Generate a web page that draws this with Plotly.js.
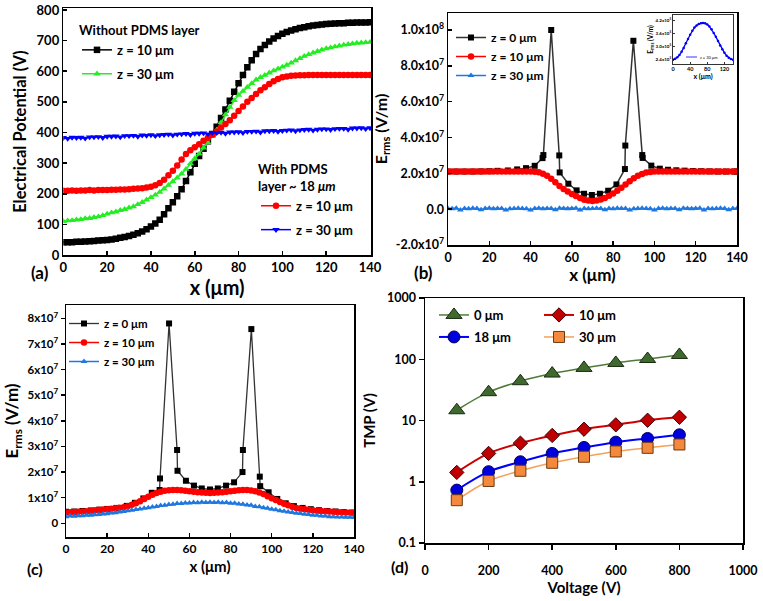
<!DOCTYPE html>
<html><head><meta charset="utf-8">
<script src="https://cdn.plot.ly/plotly-3.0.1.min.js"></script>
<style>html,body{margin:0;padding:0;background:#fff}#chart{width:763px;height:601px}</style>
</head><body><div id="chart"></div>
<script>
// ---------- Panel (a): electrical potential vs x ----------
const xA = [0,2,4,6,8,10,12,14,16,18,20,22,24,26,28,30,32,34,36,38,40,42,44,46,48,50,52,54,56,58,60,62,64,66,68,70,72,74,76,78,80,82,84,86,88,90,92,94,96,98,100,102,104,106,108,110,112,114,116,118,120,122,124,126,128,130,132,134,136,138,140];
const potNoPdms10 = [42,42,42,43,43,44,45,46,47,48,49,51,53,56,59,62,66,71,77,84,93,103,115,133,153,172,192,215,242,270,298,323,347,371,395,419,447,475,504,533,561,588,613,636,656,673,686,697,707,715,722,728,733,737,741,744,747,749,751,753,754,755,756,757,757,758,758,759,759,759,760];
const potNoPdms30 = [110,112,113,115,116,119,120,123,125,129,134,138,141,146,149,154,158,165,172,180,188,196,205,216,228,240,252,265,280,298,315,330,350,368,388,408,433,458,483,505,522,535,548,560,572,580,587,595,602,608,614,620,627,635,642,649,655,660,665,670,674,677,680,683,686,688,690,692,693,694,695];
const potPdms10 = [210,210,211,210,211,211,212,211,212,212,212,213,213,214,214,215,216,217,218,220,223,228,235,246,260,275,292,312,330,342,352,362,373,383,393,403,416,428,440,455,470,485,500,513,526,538,548,558,567,575,580,583,585,586,587,587,588,588,588,588,588,588,588,588,588,588,588,588,588,588,588];
const potPdms30 = [383,380,384,383,384,381,385,385,386,383,387,387,388,385,389,389,390,387,391,390,392,389,392,393,394,391,394,395,396,393,397,397,398,395,399,399,400,397,401,401,402,399,403,403,404,401,405,405,406,403,406,407,408,405,408,409,410,407,410,411,411,409,412,413,413,410,414,414,415,412,415];

// ---------- Panel (b): E_rms without PDMS ----------
const xB0 = [0,4,8,12,16,20,24,29,33.5,37.8,42,45.8,46.2,50,53.9,54.1,58.3,62.3,65.9,69.7,73.6,77.6,81.6,85.7,85.9,89.8,94.1,94.3,98.5,102.6,106.6,110.6,114.6,118.6,122.6,126.6,130.6,134.6,138.6,140];
const eB0 = [21e6,21e6,21e6,21e6,21.1e6,21.2e6,21.4e6,21.6e6,22.2e6,22.9e6,24.2e6,28.5e6,30.2e6,100e6,30e6,20.5e6,14.2e6,10.5e6,8.6e6,7.9e6,8.6e6,10.3e6,13.8e6,22.4e6,35.5e6,94e6,30.2e6,28.6e6,24.3e6,22.6e6,22e6,21.7e6,21.5e6,21.3e6,21.2e6,21.1e6,21e6,21e6,21e6,21e6];
const eB10 = [21e6,21e6,21e6,21e6,21e6,21e6,21e6,21e6,21e6,21e6,21e6,21e6,21e6,21e6,21e6,21e6,21e6,21e6,21e6,21e6,21e6,20.9e6,20.6e6,19.8e6,18.6e6,17e6,15e6,13e6,11.2e6,9.8e6,8.5e6,7.3e6,6.2e6,5.3e6,4.8e6,4.6e6,4.8e6,5.4e6,6.3e6,7.5e6,8.8e6,10.3e6,12e6,13.8e6,15.6e6,17.2e6,18.6e6,19.7e6,20.4e6,20.8e6,21e6,21e6,21e6,21e6,21e6,21e6,21e6,21e6,21e6,21e6,21e6,21e6,21e6,21e6,21e6,21e6,21e6,21e6,21e6,21e6,21e6];
const eB30 = [0.4e6,0.3e6,0.5e6,-0.4e6,0.4e6,0.3e6,0.5e6,0.4e6,-0.3e6,0.4e6,0.5e6,0.3e6,0.4e6,0.4e6,-0.5e6,0.3e6,0.4e6,0.5e6,0.4e6,0.3e6,-0.4e6,0.4e6,0.5e6,0.3e6,0.4e6,0.4e6,-0.3e6,0.5e6,0.4e6,0.3e6,0.4e6,0.5e6,-0.4e6,0.4e6,0.3e6,0.4e6,0.5e6,0.4e6,-0.3e6,0.4e6,0.3e6,0.5e6,0.4e6,0.4e6,-0.5e6,0.3e6,0.4e6,0.5e6,0.4e6,0.3e6,-0.4e6,0.4e6,0.5e6,0.3e6,0.4e6,0.4e6,-0.3e6,0.5e6,0.4e6,0.3e6,0.4e6,0.5e6,-0.4e6,0.4e6,0.3e6,0.4e6,0.5e6,0.4e6,-0.3e6,0.4e6,0.4e6];

// inset of (b): z = 30 um
const xInset = [0,5,10,15,20,25,30,35,40,45,50,55,60,65,70,75,80,85,90,95,100,105,110,115,120,125,130,135,140];
const eInset = [2.38e5,2.42e5,2.5e5,2.6e5,2.75e5,2.93e5,3.15e5,3.35e5,3.55e5,3.73e5,3.88e5,3.98e5,4.05e5,4.09e5,4.1e5,4.08e5,4.03e5,3.93e5,3.8e5,3.63e5,3.45e5,3.25e5,3.05e5,2.87e5,2.7e5,2.57e5,2.47e5,2.41e5,2.38e5];

// ---------- Panel (c): E_rms with PDMS ----------
const xC0 = [0,4,8,12,16,20,24.5,29.5,33.5,37.6,41.7,45.5,45.7,50.1,54,54.2,58.3,62.2,66,70,73.8,77.8,81.7,85.8,86,90.1,94.2,94.4,98.5,102.7,106.8,110.8,115,119,123,127,131,135,140];
const eC0 = [4.5e6,4.6e6,4.8e6,5e6,5.3e6,5.6e6,6e6,6.8e6,8e6,9.7e6,11.9e6,13e6,17.5e6,78e6,28.6e6,20.5e6,16.6e6,14.7e6,13.6e6,13.2e6,13.6e6,14.7e6,16e6,20e6,28.6e6,75.8e6,18.2e6,14.5e6,12.1e6,9.5e6,7.8e6,6.7e6,6e6,5.5e6,5.1e6,4.8e6,4.6e6,4.4e6,4.2e6];
const eC10 = [4.2e6,4.3e6,4.4e6,4.5e6,4.6e6,4.7e6,4.9e6,5.1e6,5.3e6,5.4e6,5.5e6,5.7e6,5.9e6,6.1e6,6.3e6,6.7e6,7.2e6,7.8e6,8.6e6,9.5e6,10.4e6,11.1e6,11.8e6,12.3e6,12.7e6,12.9e6,13e6,13e6,12.9e6,12.7e6,12.5e6,12.3e6,12.1e6,12e6,11.9e6,11.8e6,11.9e6,12e6,12.1e6,12.3e6,12.5e6,12.7e6,12.9e6,13e6,13e6,12.8e6,12.5e6,12e6,11.4e6,10.6e6,9.8e6,9.1e6,8.3e6,7.6e6,7e6,6.4e6,6e6,5.7e6,5.5e6,5.3e6,5.1e6,4.9e6,4.8e6,4.7e6,4.6e6,4.5e6,4.4e6,4.3e6,4.2e6,4.2e6,4.1e6];
const eC30 = [2.6e6,2.8e6,2.7e6,2.9e6,2.9e6,3.1e6,3.1e6,3.3e6,3.4e6,3.6e6,3.7e6,4e6,4.1e6,4.4e6,4.6e6,4.9e6,5.1e6,5.4e6,5.6e6,5.9e6,6.1e6,6.4e6,6.6e6,6.9e6,7e6,7.3e6,7.4e6,7.7e6,7.7e6,7.9e6,7.9e6,8.1e6,8e6,8.2e6,8.1e6,8.2e6,8.1e6,8.2e6,8e6,8.1e6,7.8e6,7.8e6,7.5e6,7.4e6,7.1e6,7e6,6.6e6,6.5e6,6.1e6,5.9e6,5.5e6,5.3e6,4.9e6,4.7e6,4.4e6,4.2e6,3.9e6,3.8e6,3.5e6,3.4e6,3.1e6,3.1e6,2.8e6,2.8e6,2.6e6,2.6e6,2.5e6,2.5e6,2.4e6,2.4e6,2.3e6];

// ---------- Panel (d): TMP vs voltage ----------
const voltD = [100,200,300,400,500,600,700,800];
const tmp0 = [14.7,29,43.8,58.4,72.2,87,101,117.5];
const tmp10 = [1.42,2.9,4.27,5.7,7.2,8.5,10.1,11.3];
const tmp18 = [0.73,1.46,2.12,2.9,3.63,4.43,5.09,5.84];
const tmp30 = [0.5,1.03,1.51,2.04,2.56,3.12,3.58,4.06];

// tick labels
const tickB = [-2e7,0,2e7,4e7,6e7,8e7,1e8];
const tickBText = ['-2.0x10<sup>7</sup>','0.0','2.0x10<sup>7</sup>','4.0x10<sup>7</sup>','6.0x10<sup>7</sup>','8.0x10<sup>7</sup>','1.0x10<sup>8</sup>'];
const tickC = [0,1e7,2e7,3e7,4e7,5e7,6e7,7e7,8e7];
const tickCText = ['0','1x10<sup>7</sup>','2x10<sup>7</sup>','3x10<sup>7</sup>','4x10<sup>7</sup>','5x10<sup>7</sup>','6x10<sup>7</sup>','7x10<sup>7</sup>','8x10<sup>7</sup>'];
const tickInset = [2.4e5,3.0e5,3.6e5,4.2e5];
const tickInsetText = ['2.4x10<sup>5</sup>','3.0x10<sup>5</sup>','3.6x10<sup>5</sup>','4.2x10<sup>5</sup>'];
const tickD = [0.1,1,10,100,1000];
const tickDText = ['0.1','1','10','100','1000'];

const FF = 'Lato, "Open Sans", sans-serif';
const W = 763, H = 601;
const px = v => v / W;
const py = v => 1 - v / H;
const bold = (s) => ({family: FF, size: s, weight: 'bold', color: '#000'});

const traces = [
  // (a)
  {x: xA, y: potNoPdms10, xaxis:'x', yaxis:'y', name:'z = 10 μm', legend:'legend', legendgroup:'a1',
   mode:'lines+markers', line:{color:'#000', width:1.5}, marker:{symbol:'square', size:6.5, color:'#000'}},
  {x: xA, y: potNoPdms30, xaxis:'x', yaxis:'y', name:'z = 30 μm', legend:'legend', legendgroup:'a2',
   mode:'lines+markers', line:{color:'#22ee22', width:1.5}, marker:{symbol:'triangle-up', size:6.5, color:'#22ee22'}},
  {x: xA, y: potPdms10, xaxis:'x', yaxis:'y', name:'z = 10 μm', legend:'legend2', legendgroup:'a3',
   mode:'lines+markers', line:{color:'#ff0000', width:1.5}, marker:{symbol:'circle', size:6.5, color:'#ff0000'}},
  {x: xA, y: potPdms30, xaxis:'x', yaxis:'y', name:'z = 30 μm', legend:'legend2', legendgroup:'a4',
   mode:'lines+markers', line:{color:'#0000ff', width:1.5}, marker:{symbol:'triangle-down', size:6.5, color:'#0000ff'}},
  // (b)
  {x: xB0, y: eB0, xaxis:'x2', yaxis:'y2', name:'z = 0 μm', legend:'legend3',
   mode:'lines+markers', line:{color:'#333', width:1.5}, marker:{symbol:'square', size:6, color:'#000'}},
  {x: xA, y: eB10, xaxis:'x2', yaxis:'y2', name:'z = 10 μm', legend:'legend3',
   mode:'lines+markers', line:{color:'#ff0000', width:1.5}, marker:{symbol:'circle', size:6.5, color:'#ff0000'}},
  {x: xA, y: eB30, xaxis:'x2', yaxis:'y2', name:'z = 30 μm', legend:'legend3',
   mode:'lines+markers', line:{color:'#1f78e0', width:1.5}, marker:{symbol:'triangle-up', size:6, color:'#1f78e0'}},
  // inset
  {x: xInset, y: eInset, xaxis:'x5', yaxis:'y5', name:'z = 30 μm', showlegend:false,
   mode:'lines+markers', line:{color:'#0000ff', width:1.3}, marker:{symbol:'circle', size:2.5, color:'#0000ff'}},
  // (c)
  {x: xC0, y: eC0, xaxis:'x3', yaxis:'y3', name:'z = 0 μm', legend:'legend4',
   mode:'lines+markers', line:{color:'#333', width:1.3}, marker:{symbol:'square', size:6, color:'#000'}},
  {x: xA, y: eC10, xaxis:'x3', yaxis:'y3', name:'z = 10 μm', legend:'legend4',
   mode:'lines+markers', line:{color:'#ff0000', width:1.5}, marker:{symbol:'circle', size:6.5, color:'#ff0000'}},
  {x: xA, y: eC30, xaxis:'x3', yaxis:'y3', name:'z = 30 μm', legend:'legend4',
   mode:'lines+markers', line:{color:'#1f78e0', width:1.5}, marker:{symbol:'triangle-up', size:6, color:'#1f78e0'}},
  // (d)
  {x: voltD, y: tmp0, xaxis:'x4', yaxis:'y4', name:'0 μm', legend:'legend5',
   mode:'lines+markers', line:{color:'#4f7a3a', width:1.5, shape:'spline'},
   marker:{symbol:'triangle-up', size:14, color:'#3f6a2e', line:{color:'#1a2a10', width:1}}},
  {x: voltD, y: tmp10, xaxis:'x4', yaxis:'y4', name:'10 μm', legend:'legend5',
   mode:'lines+markers', line:{color:'#cc0000', width:2, shape:'spline'},
   marker:{symbol:'diamond', size:11, color:'#c00000', line:{color:'#400000', width:1}}},
  {x: voltD, y: tmp18, xaxis:'x4', yaxis:'y4', name:'18 μm', legend:'legend6',
   mode:'lines+markers', line:{color:'#0000ff', width:2, shape:'spline'},
   marker:{symbol:'circle', size:12, color:'#0000dd', line:{color:'#000060', width:1}}},
  {x: voltD, y: tmp30, xaxis:'x4', yaxis:'y4', name:'30 μm', legend:'legend6',
   mode:'lines+markers', line:{color:'#f5a05a', width:1.5, shape:'spline'},
   marker:{symbol:'square', size:11, color:'#f4883c', line:{color:'#6a3a10', width:1}}}
];

function ax(o) {
  return Object.assign({
    showline:true, linecolor:'#000', linewidth:1.5, mirror:true,
    ticks:'inside', ticklen:4, tickwidth:1.5, tickcolor:'#000',
    showgrid:false, zeroline:false, tickfont: bold(12.5), automargin:false
  }, o);
}

const lab = (t, x, y, s) => ({text:t, x:px(x), y:py(y), xref:'paper', yref:'paper', xanchor:'center', yanchor:'middle', showarrow:false, font:bold(s)});

const layout = {
  width: W, height: H,
  margin: {l:0, r:0, t:0, b:0},
  paper_bgcolor:'#fff', plot_bgcolor:'rgba(0,0,0,0)',
  font: {family: FF, color:'#000'},
  // (a)
  xaxis: ax({domain:[px(63.3), px(371)], range:[0,140.45], anchor:'y', tickvals:[0,20,40,60,80,100,120,140], tickfont:bold(13),
    title:{text:'x (μm)', font:bold(20), standoff:4}}),
  yaxis: ax({domain:[py(255), py(8.3)], range:[0,805.5], anchor:'x', tickvals:[0,100,200,300,400,500,600,700,800], tickfont:bold(13),
    title:{text:'Electrical Potential (V)', font:bold(16.5), standoff:6}}),
  // (b)
  xaxis2: ax({domain:[px(448), px(737)], range:[0,140], anchor:'y2', tickvals:[0,20,40,60,80,100,120,140],
    title:{text:'x (μm)', font:bold(17), standoff:4}}),
  yaxis2: ax({domain:[py(245), py(13)], range:[-2e7,1.095e8], anchor:'x2', tickvals:tickB, ticktext:tickBText,
    title:{text:'E<sub>rms</sub> (V/m)', font:bold(16), standoff:4}}),
  // (c)
  xaxis3: ax({domain:[px(66), px(354)], range:[0,140], anchor:'y3', tickvals:[0,20,40,60,80,100,120,140], tickfont:bold(12),
    title:{text:'x (μm)', font:bold(15), standoff:6}}),
  yaxis3: ax({domain:[py(537), py(305)], range:[-5.35e6,8.52e7], anchor:'x3', ticks:'outside', tickvals:tickC, ticktext:tickCText, tickfont:bold(11.5),
    title:{text:'E<sub>rms</sub> (V/m)', font:bold(17), standoff:4}}),
  // (d)
  xaxis4: ax({domain:[px(425), px(743)], range:[0,1000], anchor:'y4', ticks:'outside', ticklen:5, ticklabelstandoff:10, tickvals:[0,200,400,600,800,1000], tickfont:bold(12.5),
    title:{text:'Voltage (V)', font:bold(15), standoff:1}}),
  yaxis4: ax({domain:[py(543), py(298)], type:'log', range:[-1,3], anchor:'x4', ticks:'outside', ticklen:5, tickvals:tickD, ticktext:tickDText, tickfont:bold(12.5),
    title:{text:'TMP (V)', font:bold(15), standoff:8}}),
  // inset
  xaxis5: ax({domain:[px(673), px(733)], range:[0,140], anchor:'y5', linewidth:0.8, tickwidth:0.8, ticklen:2,
    tickvals:[0,40,80,120], tickfont:bold(5.5), title:{text:'x (μm)', font:bold(7), standoff:1}}),
  yaxis5: ax({domain:[py(64), py(15)], range:[2.18e5,4.47e5], anchor:'x5', linewidth:0.8, tickwidth:0.8, ticklen:2,
    tickvals:tickInset, ticktext:tickInsetText, tickfont:bold(4.5), title:{text:'E<sub>rms</sub> (V/m)', font:bold(6.5), standoff:1}}),
  legend: {x: px(77), y: py(18), xanchor:'left', yanchor:'top', bgcolor:'rgba(0,0,0,0)', font:bold(13),
    title:{text:'Without PDMS layer', font:bold(13)}, tracegroupgap:4},
  legend2: {x: px(256), y: py(157), xanchor:'left', yanchor:'top', bgcolor:'rgba(0,0,0,0)', font:bold(13),
    title:{text:'With PDMS<br>layer ~ 18 <i>μm</i>', font:bold(13)}, tracegroupgap:4},
  legend3: {x: px(451), y: py(23), xanchor:'left', yanchor:'top', bgcolor:'rgba(0,0,0,0)', font:bold(12)},
  legend4: {x: px(64), y: py(309), xanchor:'left', yanchor:'top', bgcolor:'rgba(0,0,0,0)', font:bold(11.5)},
  legend5: {x: px(434), y: py(300), xanchor:'left', yanchor:'top', orientation:'h', entrywidth:60, bgcolor:'rgba(0,0,0,0)', font:bold(13)},
  legend6: {x: px(434), y: py(322), xanchor:'left', yanchor:'top', orientation:'h', entrywidth:60, bgcolor:'rgba(0,0,0,0)', font:bold(13)},
  annotations: [
    lab('(a)', 40, 272, 17),
    lab('(b)', 423, 272, 17),
    lab('(c)', 35, 568, 16),
    lab('(d)', 399, 566, 16),
    {text:'z = 30 μm', x:px(698), y:py(57), xref:'paper', yref:'paper', xanchor:'left', yanchor:'middle', showarrow:false, font:{family:FF, size:4, color:'#000'}}
  ],
  shapes: [
    {type:'line', xref:'paper', yref:'paper', x0:px(686), x1:px(697), y0:py(57), y1:py(57), line:{color:'#0000ff', width:0.8}}
  ]
};

Plotly.newPlot('chart', traces, layout, {displayModeBar:false, staticPlot:true});
</script></body></html>
